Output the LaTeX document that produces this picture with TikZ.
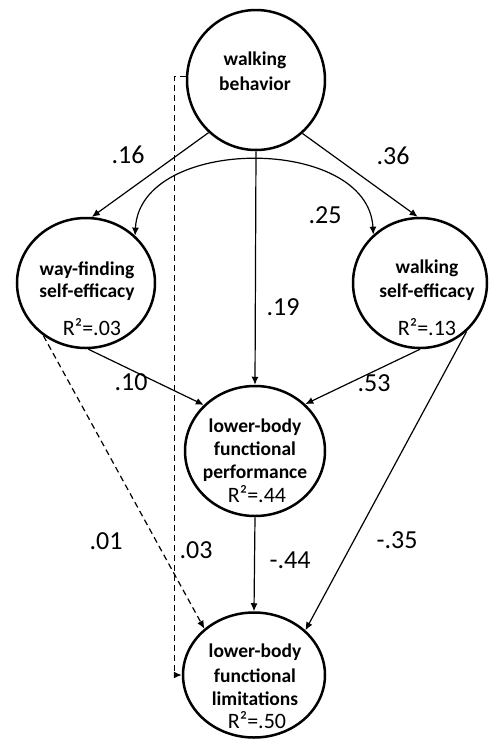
\documentclass[tikz,border=0pt]{standalone}
\usepackage{fontspec}
\setmainfont{Carlito}
\usetikzlibrary{arrows.meta,shapes.geometric}
\begin{document}
\begin{tikzpicture}[x=1pt,y=-1pt,
  lat/.style={ellipse, draw, line width=2.5pt, inner sep=0pt},
  ntext/.style={font=\fontsize{19.5}{23}\selectfont\bfseries, anchor=base, inner sep=0pt},
  rtext/.style={font=\fontsize{22}{25}\selectfont, anchor=base, inner sep=0pt},
  coef/.style={font=\fontsize{26}{28}\selectfont, anchor=base, inner sep=0pt},
  edgeline/.style={line width=1.2pt, -{Latex[length=8pt,width=7pt]}},
  dashedge/.style={edgeline, dash pattern=on 6pt off 4pt},
  covedge/.style={line width=1.2pt, {Latex[length=8pt,width=7pt]}-{Latex[length=8pt,width=7pt]}}
]
\useasboundingbox (0,0) rectangle (489,740);

% latent variables
\node[lat, minimum width=138pt, minimum height=140pt] (wb) at (256,80) {};
\node[lat, minimum width=138pt, minimum height=130pt] (wf) at (86,283) {};
\node[lat, minimum width=134pt, minimum height=130pt] (ws) at (420,283) {};
\node[lat, minimum width=140pt, minimum height=130pt] (perf) at (255,451) {};
\node[lat, minimum width=142pt, minimum height=125pt] (lim) at (254,675) {};

% texts
\node[ntext] (wb1) at (255,65) {walking};
\node[ntext] (wb2) at (255,90) {behavior};
\node[ntext] (wf1) at (87,275) {way-finding};
\node[ntext] (wf2) at (87,297) {self-efficacy};
\node[rtext] (wfr) at (92,335) {R²=.03};
\node[ntext] (ws1) at (427,273) {walking};
\node[ntext] (ws2) at (427,297) {self-efficacy};
\node[rtext] (wsr) at (427,335) {R²=.13};
\node[ntext] (pf1) at (255,432) {lower-body};
\node[ntext] (pf2) at (255,455) {functional};
\node[ntext] (pf3) at (255,478) {performance};
\node[rtext] (pfr) at (257,502) {R²=.44};
\node[ntext] (lm1) at (255,657) {lower-body};
\node[ntext] (lm2) at (255,682) {functional};
\node[ntext] (lm3) at (255,705) {limitations};
\node[rtext] (lmr) at (257,728) {R²=.50};

% paths
\draw[edgeline] (wb.228) -- (wf.85);
\draw[edgeline] (wb.311) -- (ws.92);
\draw[edgeline] (wb.south) -- (perf.north);
\draw[edgeline] (wf.272) -- (perf.138);
\draw[edgeline] (ws.south) -- (perf.43);
\draw[edgeline] (perf.south) -- (lim.north);
\draw[edgeline] (ws.314) -- (lim.41);
\draw[dashedge] (wf.231) -- (lim.137);
\draw[dashedge] (wb.177) -- ++(-11,0) |- (lim.west);
\draw[covedge] (wf.44) .. controls (140,135) and (368,135) .. (ws.134);

% coefficients
\node[coef] (c16) at (128,163) {.16};
\node[coef] (c36) at (393,164) {.36};
\node[coef] (c25) at (325,223) {.25};
\node[coef] (c19) at (283,315) {.19};
\node[coef] (c10) at (131,390) {.10};
\node[coef] (c53) at (374,391) {.53};
\node[coef] (c01) at (106,549) {.01};
\node[coef] (c03) at (196,558) {.03};
\node[coef] (c44) at (290,568) {-.44};
\node[coef] (c35) at (397,548) {-.35};
\end{tikzpicture}
\end{document}
